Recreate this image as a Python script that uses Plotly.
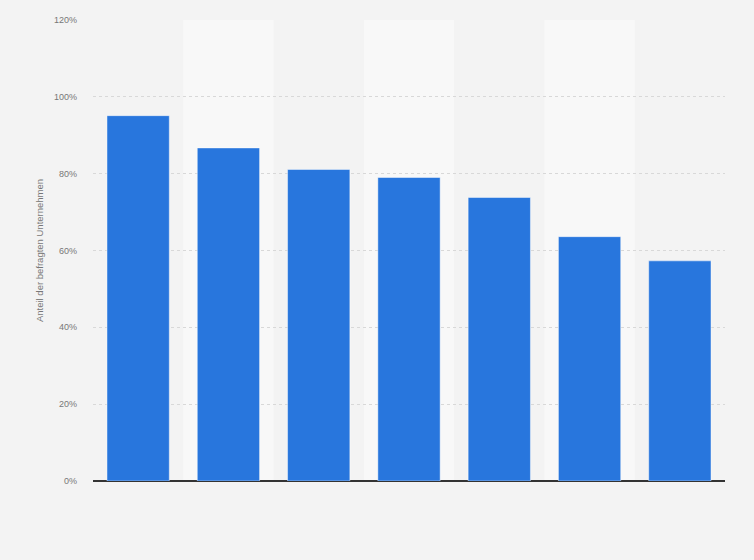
import plotly.graph_objects as go

categories = ["Kategorie 1", "Kategorie 2", "Kategorie 3", "Kategorie 4",
              "Kategorie 5", "Kategorie 6", "Kategorie 7"]
values = [95.1, 86.7, 81.1, 79.0, 73.8, 63.6, 57.3]
y_ticks = [0, 20, 40, 60, 80, 100, 120]
y_tick_labels = ["0%", "20%", "40%", "60%", "80%", "100%", "120%"]

fig = go.Figure()
fig.add_trace(go.Bar(
    x=list(range(len(categories))),
    y=values,
    width=0.69,
    marker=dict(color="#2876dd", line=dict(color="rgba(255,255,255,0.45)", width=1)),
    hovertext=categories,
))

shapes = []
for i in range(len(categories)):
    if i % 2 == 1:
        shapes.append(dict(type="rect", xref="x", yref="paper", x0=i - 0.5, x1=i + 0.5,
                           y0=0, y1=1, fillcolor="#f8f8f8", line=dict(width=0), layer="below"))

fig.update_layout(
    width=754, height=560,
    margin=dict(l=93, r=29, t=20, b=79),
    paper_bgcolor="#f3f3f3",
    plot_bgcolor="#f3f3f3",
    showlegend=False,
    shapes=shapes,
    font=dict(family="Liberation Sans, Arial, sans-serif", color="#666666", size=10),
    xaxis=dict(range=[-0.5, len(categories) - 0.5], showticklabels=False, showgrid=False,
               zeroline=False, showline=False, ticks=""),
    yaxis=dict(range=[0, 120], tickvals=y_ticks, ticktext=y_tick_labels,
               showgrid=True, gridcolor="#d8d8d8", griddash="dot", gridwidth=1,
               zeroline=True, zerolinecolor="#333333", zerolinewidth=1.5,
               tickfont=dict(size=9, color="#777777"), ticks="", ticklabelstandoff=15,
               title=dict(text="Anteil der befragten Unternehmen", font=dict(size=9.5, color="#777777"),
                          standoff=8)),
)

fig.write_html("out.html", config={"displayModeBar": False},
               post_script="document.body.style.margin='0';document.body.style.background='#f3f3f3';")
